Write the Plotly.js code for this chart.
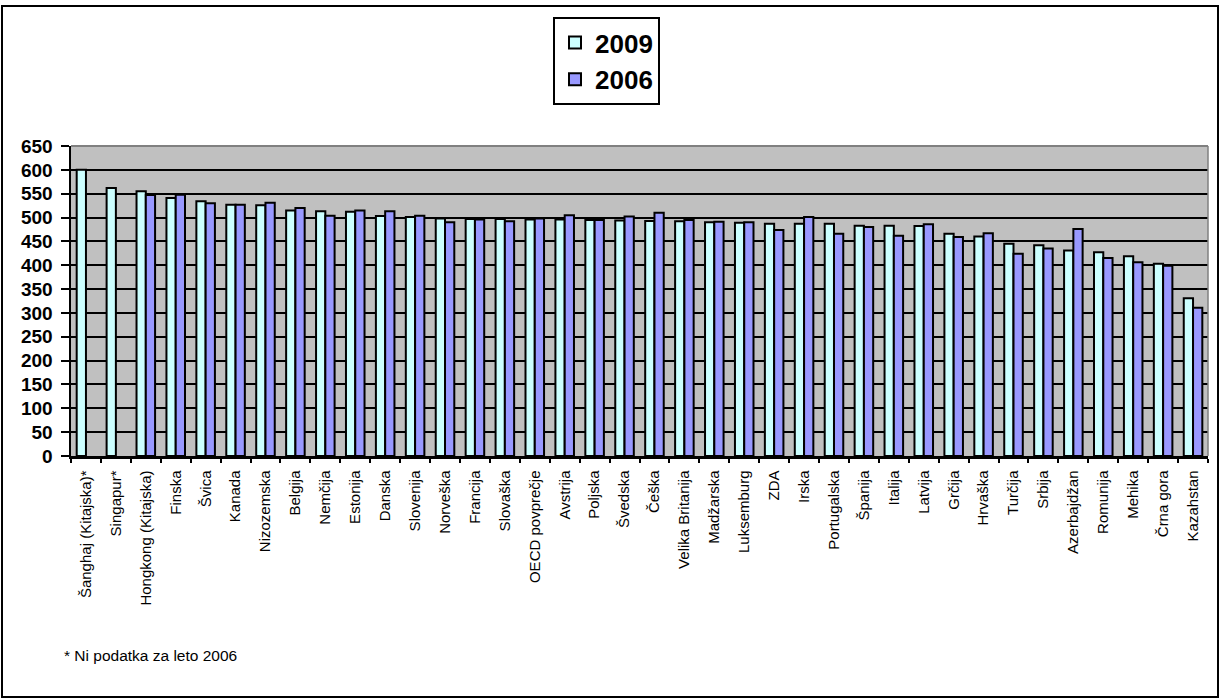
<!DOCTYPE html>
<html>
<head>
<meta charset="utf-8">
<script src="https://cdn.plot.ly/plotly-3.0.1.min.js"></script>
<style>
  html, body { margin: 0; padding: 0; background: #ffffff; }
  #chart { width: 1220px; height: 700px; }
</style>
</head>
<body>
<div id="chart"></div>
<script>
const countries = [
  "Šanghaj (Kitajska)*", "Singapur*", "Hongkong (Kitajska)", "Finska", "Švica", "Kanada",
  "Nizozemska", "Belgija", "Nemčija", "Estonija", "Danska", "Slovenija", "Norveška",
  "Francija", "Slovaška", "OECD povprečje", "Avstrija", "Poljska", "Švedska", "Češka",
  "Velika Britanija", "Madžarska", "Luksemburg", "ZDA", "Irska", "Portugalska", "Španija",
  "Italija", "Latvija", "Grčija", "Hrvaška", "Turčija", "Srbija", "Azerbajdžan",
  "Romunija", "Mehika", "Črna gora", "Kazahstan"
];
const values2009 = [600, 562, 555, 541, 534, 527, 526, 515, 513, 512, 503, 501, 498,
  497, 497, 496, 496, 495, 494, 493, 492, 490, 489, 487, 487, 487, 483,
  483, 482, 466, 460, 445, 442, 431, 427, 419, 403, 331];
const values2006 = [null, null, 547, 548, 530, 527, 531, 520, 504, 515, 513, 504, 490,
  496, 492, 498, 505, 495, 502, 510, 495, 491, 490, 474, 501, 466, 480,
  462, 486, 459, 467, 424, 435, 476, 415, 406, 399, 311];
const seriesNames = ["2009", "2006"];
const yTicks = [0, 50, 100, 150, 200, 250, 300, 350, 400, 450, 500, 550, 600, 650];
const footnote = "* Ni podatka za leto 2006";

const FONT = "Arial, 'Liberation Sans', sans-serif";

const traces = [
  {
    type: "bar", name: seriesNames[0], x: countries, y: values2009,
    marker: { color: "#CCFFFF", line: { color: "#000000", width: 2 } },
    hoverinfo: "x+y"
  },
  {
    type: "bar", name: seriesNames[1], x: countries, y: values2006,
    marker: { color: "#9999FF", line: { color: "#000000", width: 2 } },
    hoverinfo: "x+y"
  }
];

const L = 71, R = 12, T = 146, B = 244, W = 1220, H = 700;
const pw = W - L - R, ph = H - T - B;
const px = v => (v - L) / pw;
const py = v => (H - B - v) / ph;

const layout = {
  width: W, height: H,
  margin: { l: L, r: R, t: T, b: B, pad: 0 },
  paper_bgcolor: "#ffffff",
  plot_bgcolor: "#C0C0C0",
  font: { family: FONT, color: "#000000" },
  barmode: "group",
  bargap: 0.38,
  bargroupgap: 0,
  showlegend: true,
  legend: {
    x: px(553), y: py(17), xanchor: "left", yanchor: "top",
    bgcolor: "#ffffff", bordercolor: "#000000", borderwidth: 2,
    font: { family: FONT, size: 26, weight: "bold", color: "#000000" },
    traceorder: "normal", itemwidth: 30, tracegroupgap: 4
  },
  xaxis: {
    type: "category",
    tickangle: -90,
    tickfont: { family: FONT, size: 15, color: "#000000" },
    ticks: "outside", ticklen: 4, tickwidth: 2, tickcolor: "#000000",
    tickson: "boundaries",
    ticklabelstandoff: 6,
    showline: true, linecolor: "#000000", linewidth: 2.5,
    showgrid: false, zeroline: false, fixedrange: true
  },
  yaxis: {
    range: [0, 650],
    tickvals: yTicks,
    ticktext: yTicks.map(String),
    tickfont: { family: FONT, size: 19, weight: "bold", color: "#000000" },
    ticks: "outside", ticklen: 8, tickwidth: 2, tickcolor: "#000000",
    ticklabelstandoff: 4,
    showline: true, linecolor: "#000000", linewidth: 2.5,
    showgrid: true, gridcolor: "#000000", gridwidth: 2,
    zeroline: false, fixedrange: true
  },
  shapes: [
    { type: "line", xref: "paper", yref: "paper", x0: 0, x1: 1, y0: 1, y1: 1,
      line: { color: "#808080", width: 2 }, layer: "above" },
    { type: "line", xref: "paper", yref: "paper", x0: 1, x1: 1, y0: 0, y1: 1,
      line: { color: "#808080", width: 1.5 }, layer: "above" },
    { type: "rect", xref: "paper", yref: "paper",
      x0: px(2), x1: px(1218), y0: py(697), y1: py(6),
      line: { color: "#000000", width: 2 }, fillcolor: "rgba(0,0,0,0)", layer: "above" }
  ],
  annotations: [
    { xref: "paper", yref: "paper", x: px(62), y: py(655), xanchor: "left", yanchor: "middle",
      text: footnote, showarrow: false,
      font: { family: FONT, size: 15.5, color: "#000000" } }
  ]
};

Plotly.newPlot("chart", traces, layout, { displayModeBar: false, staticPlot: true });
</script>
</body>
</html>
